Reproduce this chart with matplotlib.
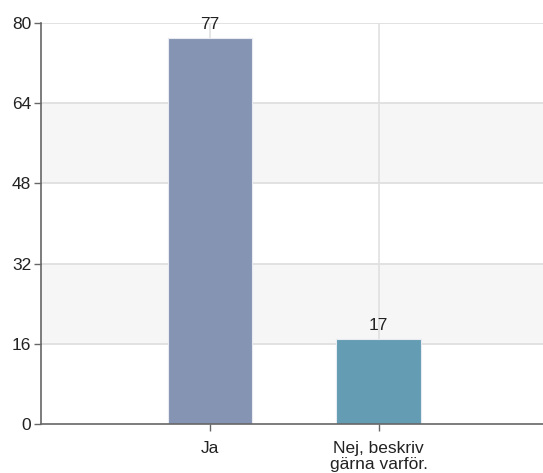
import matplotlib
matplotlib.use("Agg")
import matplotlib.pyplot as plt

categories = ["Ja", "Nej, beskriv\ngärna varför."]
values = [77, 17]
colors = ["#8594b3", "#639cb3"]
yticks = [0, 16, 32, 48, 64, 80]

plt.rcParams['font.family'] = ['Liberation Sans', 'DejaVu Sans']

W, H = 543, 473
fig = plt.figure(figsize=(W / 100, H / 100), dpi=100)
left, right = 41 / W, 1.0
bottom, top = 1 - 424 / H, 1 - 23 / H
ax = fig.add_axes([left, bottom, right - left, top - bottom])

unit = 168.75
xs = list(range(len(categories)))
ax.set_xlim(-1, -1 + (W - 41) / unit)
ax.set_ylim(0, 80)

# alternating bands
for i in range(len(yticks) - 1):
    if i % 2 == 1:
        ax.axhspan(yticks[i], yticks[i + 1], color="#f6f6f6", zorder=0, lw=0)
for y in yticks[1:]:
    ax.axhline(y, color="#dddddd", lw=1.2, zorder=1)
for x in xs:
    ax.axvline(x, color="#e0e0e0", lw=1.2, zorder=1)

bars = ax.bar(xs, values, width=0.5, color=colors, edgecolor="#e8ecf2", lw=0.8, zorder=2)
for x, v in zip(xs, values):
    ax.text(x, v + 1.2, str(v), ha="center", va="bottom", fontsize=12.5, color="#222222", zorder=3)

ax.set_yticks(yticks)
ax.set_xticks(xs)
ax.set_xticklabels(categories, fontsize=12.5, color="#222222", linespacing=1.12)
ax.tick_params(axis="y", labelsize=12.5, labelcolor="#222222", length=5, width=1, color="#666666", pad=2)
ax.tick_params(axis="x", length=5, width=1, color="#666666", pad=7)

for s in ["top", "right"]:
    ax.spines[s].set_visible(False)
for s in ["left", "bottom"]:
    ax.spines[s].set_color("#666666")
    ax.spines[s].set_linewidth(1.2)
    ax.spines[s].set_zorder(4)

fig.savefig("out.png", dpi=100)
